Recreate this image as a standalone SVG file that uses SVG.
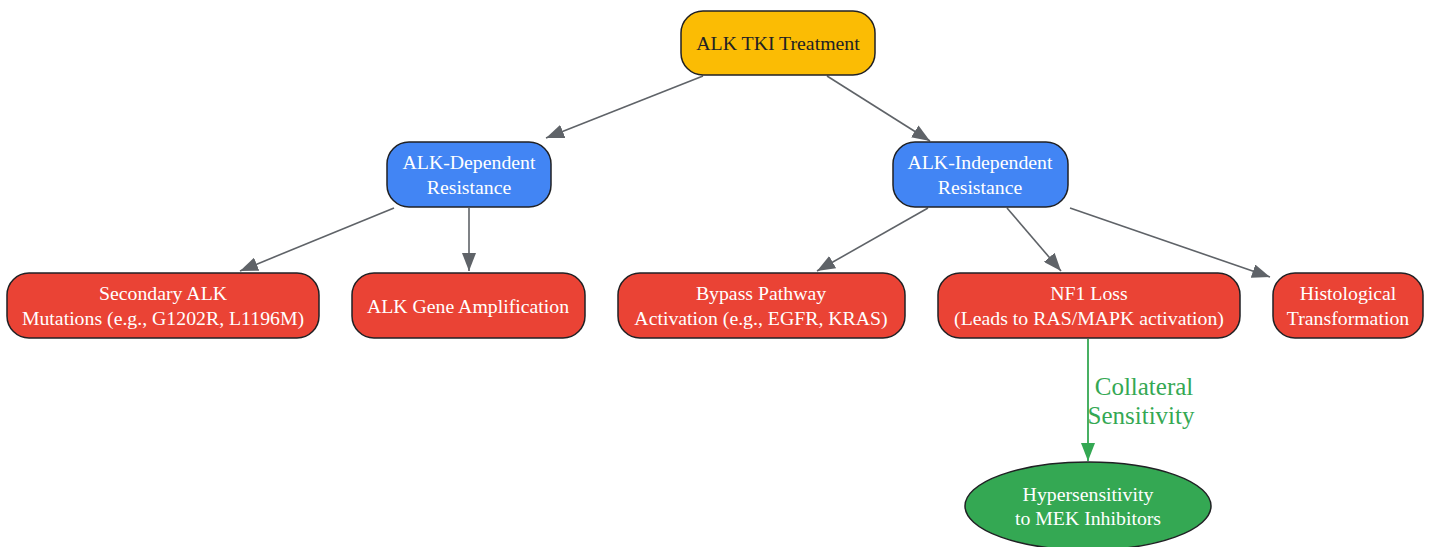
<svg xmlns="http://www.w3.org/2000/svg" width="1431" height="547" viewBox="0 0 1431 547">
<style>
.n{stroke:#202124;stroke-width:1.5}
.y{fill:#FBBC04}.b{fill:#4285F4}.r{fill:#EA4335}.g{fill:#34A853}
text{font-family:"Liberation Serif","Times New Roman",serif;font-size:19.8px;text-anchor:middle}
.w{fill:#ffffff}.k{fill:#202124}
.e{fill:none;stroke:#5f6368;stroke-width:1.6}
.eg{fill:none;stroke:#34A853;stroke-width:1.8}
.lbl{fill:#34A853;font-size:25px}
</style>
<defs>
<marker id="ah" markerUnits="userSpaceOnUse" markerWidth="20" markerHeight="14" refX="18" refY="7" orient="auto"><path d="M0,0 L18,7 L0,14 z" fill="#5f6368"/></marker>
<marker id="ag" markerUnits="userSpaceOnUse" markerWidth="20" markerHeight="14" refX="18" refY="7" orient="auto"><path d="M0,0 L18,7 L0,14 z" fill="#34A853"/></marker>
</defs>
<g id="connectors">
<path class="e" d="M703,76 L546,138" marker-end="url(#ah)"/>
<path class="e" d="M827,76 L930,141" marker-end="url(#ah)"/>
<path class="e" d="M394,208 L240,271" marker-end="url(#ah)"/>
<path class="e" d="M469,208 L469,271" marker-end="url(#ah)"/>
<path class="e" d="M928,208 L817,271" marker-end="url(#ah)"/>
<path class="e" d="M1007,208 L1061,271" marker-end="url(#ah)"/>
<path class="e" d="M1070,208 L1270,277" marker-end="url(#ah)"/>
<path class="eg" d="M1088,339 L1088,461" marker-end="url(#ag)"/>
<text class="lbl" x="1144" y="395">Collateral</text>
<text class="lbl" x="1141" y="424">Sensitivity</text>
</g>
<g id="tki"><rect class="n y" x="681" y="11" width="194" height="64" rx="22"/><text class="k" x="778" y="50">ALK TKI Treatment</text></g>
<g id="dep"><rect class="n b" x="387" y="142" width="164" height="65" rx="22"/><text class="w" x="469" y="169">ALK-Dependent</text><text class="w" x="469" y="194">Resistance</text></g>
<g id="indep"><rect class="n b" x="893" y="142" width="175" height="65" rx="22"/><text class="w" x="980" y="169">ALK-Independent</text><text class="w" x="980" y="194">Resistance</text></g>
<g id="secondary"><rect class="n r" x="7" y="273" width="312" height="65" rx="22"/><text class="w" x="163" y="300">Secondary ALK</text><text class="w" x="163" y="325">Mutations (e.g., G1202R, L1196M)</text></g>
<g id="amp"><rect class="n r" x="352" y="273" width="233" height="65" rx="22"/><text class="w" x="468" y="313">ALK Gene Amplification</text></g>
<g id="bypass"><rect class="n r" x="618" y="273" width="287" height="65" rx="22"/><text class="w" x="761" y="300">Bypass Pathway</text><text class="w" x="761" y="325">Activation (e.g., EGFR, KRAS)</text></g>
<g id="nf1"><rect class="n r" x="938" y="273" width="302" height="65" rx="22"/><text class="w" x="1089" y="300">NF1 Loss</text><text class="w" x="1089" y="325">(Leads to RAS/MAPK activation)</text></g>
<g id="histo"><rect class="n r" x="1273" y="273" width="150" height="65" rx="22"/><text class="w" x="1348" y="300">Histological</text><text class="w" x="1348" y="325">Transformation</text></g>
<g id="hyper"><ellipse class="n g" cx="1088" cy="506" rx="123" ry="44"/><text class="w" x="1088" y="501">Hypersensitivity</text><text class="w" x="1088" y="525">to MEK Inhibitors</text></g>
</svg>
